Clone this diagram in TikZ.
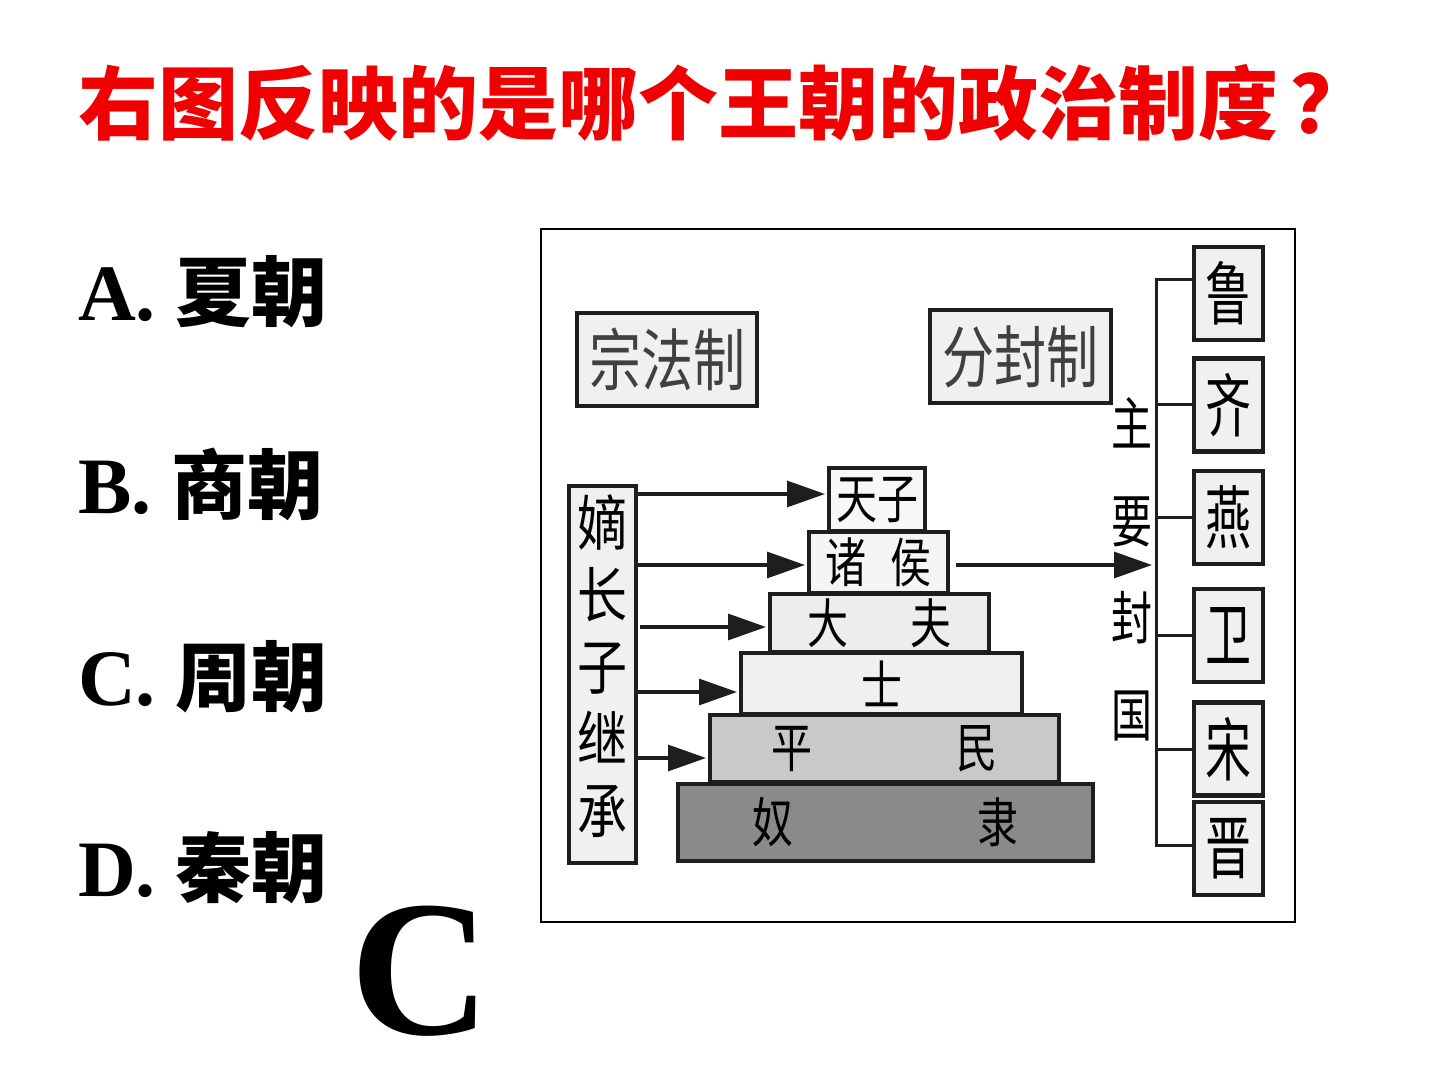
\documentclass[tikz,border=0pt]{standalone}
\usepackage{fontspec}
\usepackage{graphicx}
\setmainfont{Liberation Serif}
\newfontfamily\cjk{Noto Sans CJK SC}
\usetikzlibrary{arrows.meta, positioning}
\definecolor{titlered}{RGB}{240,0,0}
\definecolor{boxline}{RGB}{30,30,30}
\newcommand\tall[2][1.3]{\scalebox{1}[#1]{#2}}

\begin{document}
\begin{tikzpicture}[
    x=0.5pt, y=-0.5pt,
    every node/.style={inner sep=0pt, outer sep=0pt},
    title/.style ={anchor=base west, text=titlered, font=\cjk\bfseries\fontsize{40}{40}\selectfont},
    choice/.style={anchor=base west, font=\bfseries\fontsize{40}{40}\selectfont},
    lbox/.style  ={draw=boxline, line width=2.3pt, fill=black!6, align=center,
                   font=\cjk\fontsize{26}{26}\selectfont},
    level/.style ={draw=boxline, line width=2.3pt, align=center,
                   font=\cjk\fontsize{20.5}{20.5}\selectfont},
    state/.style ={lbox, minimum width=34.5pt, minimum height=46.5pt,
                   font=\cjk\fontsize{23}{23}\selectfont},
    arr/.style   ={-{Triangle[length=19pt,width=13pt]}, line width=1.6pt,
                   draw=boxline, shorten >=2pt},
    link/.style  ={line width=1.5pt, draw=boxline}
]
\useasboundingbox (0,0) rectangle (1440,1080);

% question and choices
\node[title] (q) at (78,134) {右图反映的是哪个王朝的政治制度\hspace{6pt}？};
\node[choice] (ca) at (78,321) {A. {\cjk\fontsize{38}{38}\selectfont 夏朝}};
\node[choice] (cb) at (78,513) {B. {\cjk\fontsize{38}{38}\selectfont 商朝}};
\node[choice] (cc) at (78,705) {C. {\cjk\fontsize{38}{38}\selectfont 周朝}};
\node[choice] (cd) at (78,896) {D. {\cjk\fontsize{38}{38}\selectfont 秦朝}};
\node[anchor=base west, font=\bfseries\fontsize{97}{97}\selectfont] (ans) at (350,1034) {C};

% frame of the chart
\draw[line width=1pt] (541,229) rectangle (1295,922);

% headings
\node[lbox, minimum width=90pt, minimum height=46.5pt, text=black!75] (zongfa) at (667,359.5)
    {\tall{宗法制}};
\node[lbox, minimum width=90.5pt, minimum height=46.5pt, text=black!75] (fenfeng) at (1020.5,356.5)
    {\tall{分封制}};
\node[lbox, minimum width=33.5pt, minimum height=188.5pt, font=\cjk\fontsize{25}{30}\selectfont] (zhang) at (602.5,674.5)
    {\tall[1.2]{\begin{tabular}{@{}c@{}}嫡\\长\\子\\继\\承\end{tabular}}};

% pyramid
\node[level, fill=black!3,  minimum width=48pt,    minimum height=31.5pt] (tianzi)  at (877,499.5) {\tall{天子}};
\node[level, fill=black!4,  minimum width=69.5pt,  minimum height=30.5pt] (zhuhou)  at (878.5,562.5) {\tall{诸\hspace{12pt}侯}};
\node[level, fill=black!7,  minimum width=109.5pt, minimum height=29pt]   (dafu)    at (879.5,623) {\tall{大\hspace{31pt}夫}};
\node[level, fill=black!6,  minimum width=140.5pt, minimum height=30.5pt] (shi)     at (881.5,683.5) {\tall{士}};
\node[level, fill=black!21, minimum width=174.5pt, minimum height=33.5pt] (pingmin) at (884.5,748.5) {\tall{平\hspace{72pt}民}};
\node[level, fill=black!46, minimum width=207.5pt, minimum height=38.5pt] (nuli)    at (885.5,822.5) {\tall{奴\hspace{92pt}隶}};

% succession arrows
\draw[arr, transform canvas={yshift=2.75pt}]  (zhang.east |- tianzi.west)  -- (tianzi.west);
\draw[arr, transform canvas={yshift=-1.25pt}] (zhang.east |- zhuhou.west)  -- (zhuhou.west);
\draw[arr, transform canvas={yshift=-2pt}]    ([xshift=2pt]zhang.east |- dafu.west) -- (dafu.west);
\draw[arr, transform canvas={yshift=-4.25pt}] (zhang.east |- shi.west)     -- (shi.west);
\draw[arr, transform canvas={yshift=-4.75pt}] (zhang.east |- pingmin.west) -- (pingmin.west);

% main fiefs
\node[font=\cjk\fontsize{20.5}{34.6}\selectfont] (fengguo) at (1132,571.5)
    {\tall[1.4]{\begin{tabular}{@{}c@{}}主\\要\\封\\国\end{tabular}}};
\node[state] (lu)   at (1228.5,293.5) {\tall[1.5]{鲁}};
\node[state] (qi)   at (1228.5,405)   {\tall[1.5]{齐}};
\node[state] (yan)  at (1228.5,517.5) {\tall[1.5]{燕}};
\node[state] (wei)  at (1228.5,635.5) {\tall[1.5]{卫}};
\node[state] (song) at (1228.5,749)   {\tall[1.5]{宋}};
\node[state] (jin)  at (1228.5,848.5) {\tall[1.5]{晋}};

\coordinate (trunk)  at (1156,280);
\coordinate (trunkb) at (1156,845);
\draw[link] (lu.west |- trunk) -- (trunk) -- (trunkb) -- (jin.west |- trunkb);
\draw[link] (qi.west)   -- (qi.west -| trunk);
\draw[link] (yan.west)  -- (yan.west -| trunk);
\draw[link] (wei.west)  -- (wei.west -| trunk);
\draw[link] (song.west) -- (song.west -| trunk);

\draw[arr, transform canvas={yshift=-1.25pt}] ([xshift=4pt]zhuhou.east) -- (zhuhou.east -| trunk);
\end{tikzpicture}
\end{document}
